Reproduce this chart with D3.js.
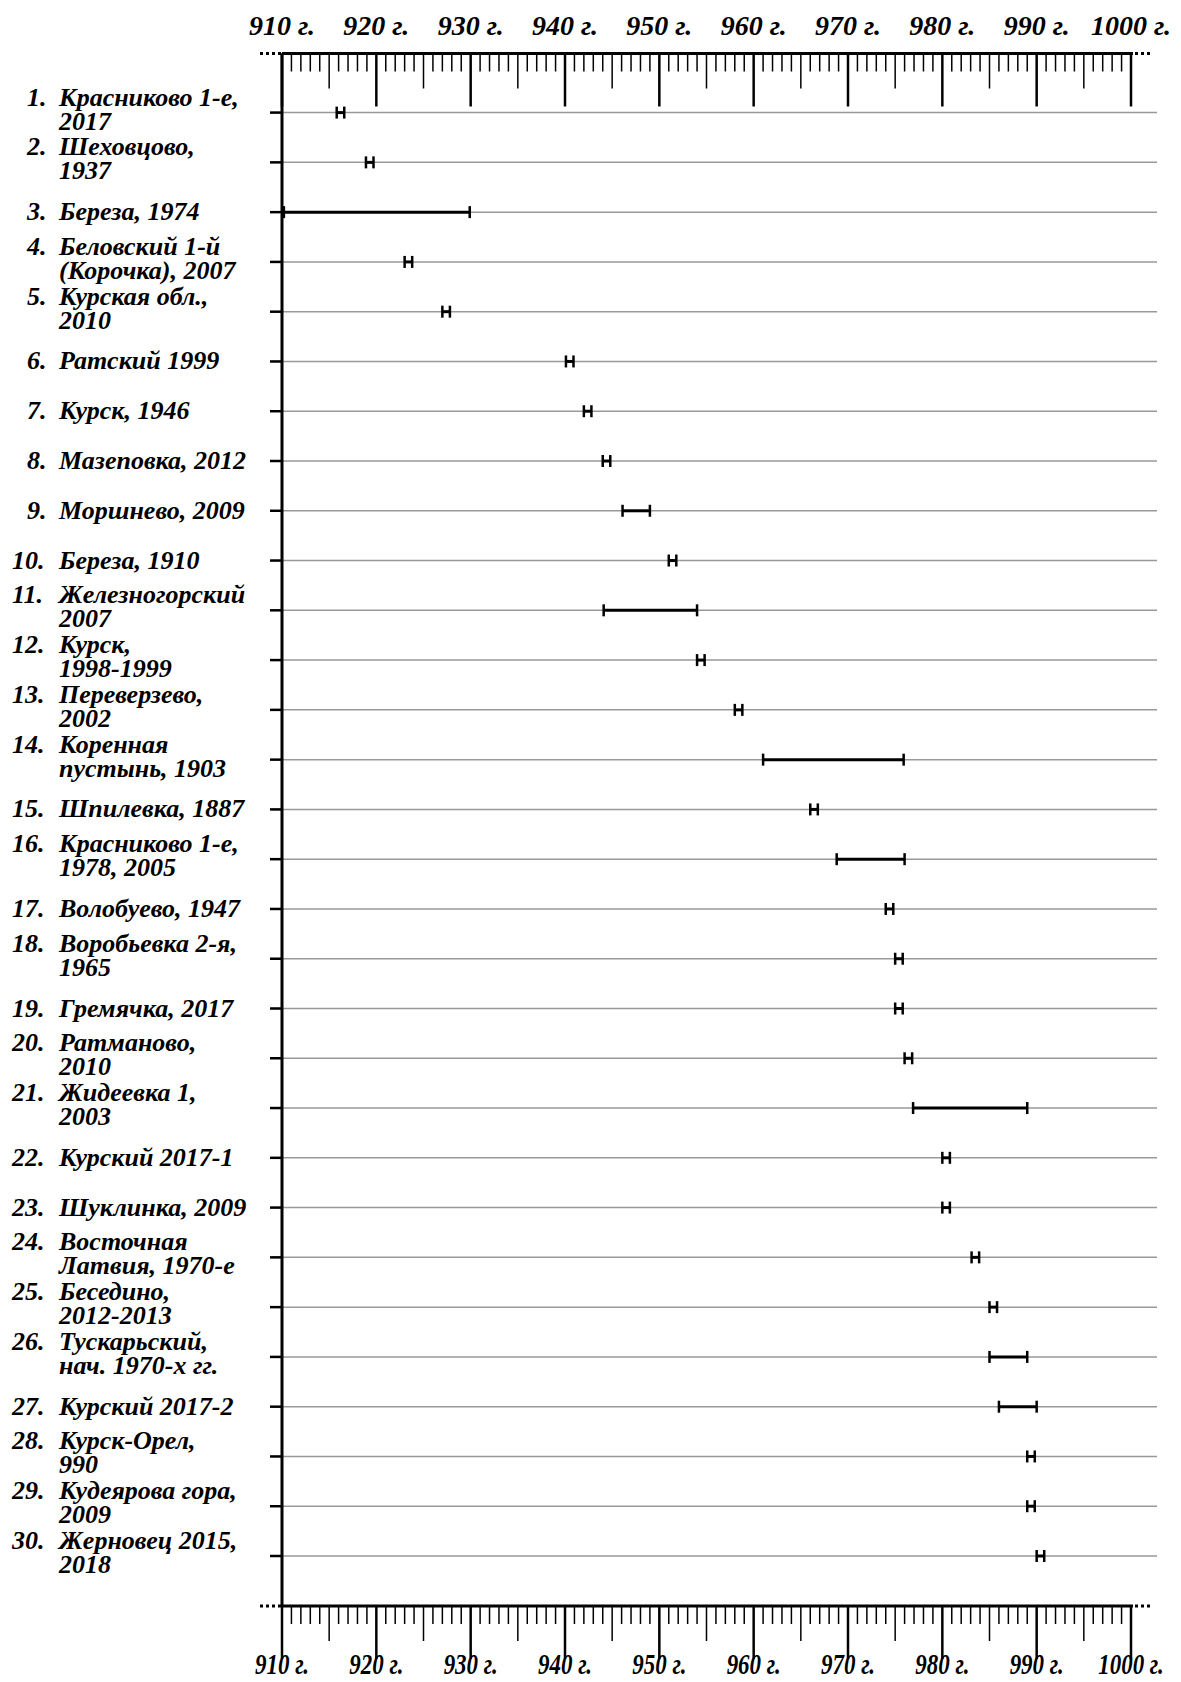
<!DOCTYPE html>
<html><head><meta charset="utf-8">
<script src="https://cdn.jsdelivr.net/npm/d3@7"></script>
<style>body{margin:0;background:#fff}svg text{font-family:"Liberation Serif","Times New Roman",serif;font-style:italic;font-weight:bold;fill:#000}</style>
</head><body><svg id="c" width="1181" height="1682"></svg>
<script>
const labels=[
["1.","Красниково 1-е,","2017"],["2.","Шеховцово,","1937"],["3.","Береза, 1974"],
["4.","Беловский 1-й","(Корочка), 2007"],["5.","Курская обл.,","2010"],["6.","Ратский  1999"],
["7.","Курск, 1946"],["8.","Мазеповка, 2012"],["9.","Моршнево, 2009"],["10.","Береза, 1910"],
["11.","Железногорский","2007"],["12.","Курск,","1998-1999"],["13.","Переверзево,","2002"],
["14.","Коренная","пустынь, 1903"],["15.","Шпилевка, 1887"],["16.","Красниково 1-е,","1978, 2005"],
["17.","Волобуево, 1947"],["18.","Воробьевка 2-я,","1965"],["19.","Гремячка, 2017"],
["20.","Ратманово,","2010"],["21.","Жидеевка 1,","2003"],["22.","Курский  2017-1"],
["23.","Шуклинка, 2009"],["24.","Восточная","Латвия, 1970-е"],["25.","Беседино,","2012-2013"],
["26.","Тускарьский,","нач. 1970-х гг."],["27.","Курский 2017-2"],["28.","Курск-Орел,","990"],
["29.","Кудеярова гора,","2009"],["30.","Жерновец  2015,","2018"]];
const starts=[915.8,918.9,910.2,923.0,927.0,940.1,942.0,944.0,946.1,951.0,944.1,954.0,958.0,961.0,966.0,968.8,974.0,975.0,975.0,976.0,976.9,980.0,980.0,983.1,985.0,985.0,986.0,989.0,989.0,990.0];
const ends=[916.6,919.7,929.9,923.8,927.8,940.9,942.8,944.8,949.0,951.8,954.0,954.8,958.8,975.9,966.8,976.0,974.8,975.8,975.8,976.8,989.0,980.8,980.8,983.9,985.8,989.0,990.0,989.8,989.8,990.8];
const tickYears=d3.range(910,1001,10);

const svg=d3.select("#c");
const x=d3.scaleLinear().domain([910,1000]).range([282,1131]);
const y=d3.scalePoint().domain(d3.range(30)).range([112.6,1556]);
const topY=53.5, botY=1606;
const tickLen=v=>v%10===0?53:(v%5===0?35:18);

svg.selectAll("line.grid").data(d3.range(30)).join("line")
 .attr("x1",272).attr("x2",1157).attr("y1",d=>y(d)).attr("y2",d=>y(d))
 .attr("stroke","#999").attr("stroke-width",1.5);
svg.selectAll("line.lt").data(d3.range(30)).join("line")
 .attr("x1",270).attr("x2",282).attr("y1",d=>y(d)).attr("y2",d=>y(d))
 .attr("stroke","#000").attr("stroke-width",2.5);

[topY,botY].forEach(ay=>{
 svg.append("line").attr("x1",282).attr("x2",x(1000)+2).attr("y1",ay).attr("y2",ay).attr("stroke","#000").attr("stroke-width",3);
 svg.selectAll(null).data(d3.range(910,1001)).join("line")
  .attr("x1",d=>x(d)).attr("x2",d=>x(d)).attr("y1",ay).attr("y2",d=>ay+tickLen(d))
  .attr("stroke","#000").attr("stroke-width",d=>d%10===0?2.5:1.5);
 svg.append("line").attr("x1",x(1000)+4).attr("x2",x(1000)+22).attr("y1",ay).attr("y2",ay).attr("stroke","#000").attr("stroke-width",3).attr("stroke-dasharray","3,3");
 svg.append("line").attr("x1",260).attr("x2",281).attr("y1",ay).attr("y2",ay).attr("stroke","#000").attr("stroke-width",3).attr("stroke-dasharray","3,3");
});
svg.append("line").attr("x1",282).attr("x2",282).attr("y1",topY).attr("y2",botY).attr("stroke","#000").attr("stroke-width",3);

svg.selectAll("text.tt").data(tickYears).join("text")
 .attr("x",d=>x(d)).attr("y",35).attr("text-anchor","middle").attr("font-size",28).text(d=>d+" г.");
svg.selectAll("text.bt").data(tickYears).join("text")
 .attr("transform",d=>`translate(${x(d)},1674) scale(0.85,1.1)`).attr("text-anchor","middle").attr("font-size",27).text(d=>d+" г.");

const g=svg.append("g");
d3.range(30).forEach(i=>{
 const yy=y(i),a=x(starts[i]),b=x(ends[i]);
 g.append("line").attr("x1",a).attr("x2",b).attr("y1",yy).attr("y2",yy).attr("stroke","#000").attr("stroke-width",3);
 [a,b].forEach(v=>g.append("line").attr("x1",v).attr("x2",v).attr("y1",yy-6).attr("y2",yy+6).attr("stroke","#000").attr("stroke-width",2.5));
});

labels.forEach((l,i)=>{
 const yy=y(i);
 const two=l.length===3;
 const base=two?yy-7:yy+8;
 svg.append("text").attr("x",i<9?27:12).attr("y",base).attr("font-size",26).text(l[0]);
 svg.append("text").attr("x",59).attr("y",base).attr("font-size",26).text(l[1]);
 if(two) svg.append("text").attr("x",59).attr("y",base+24).attr("font-size",26).text(l[2]);
});
</script></body></html>
